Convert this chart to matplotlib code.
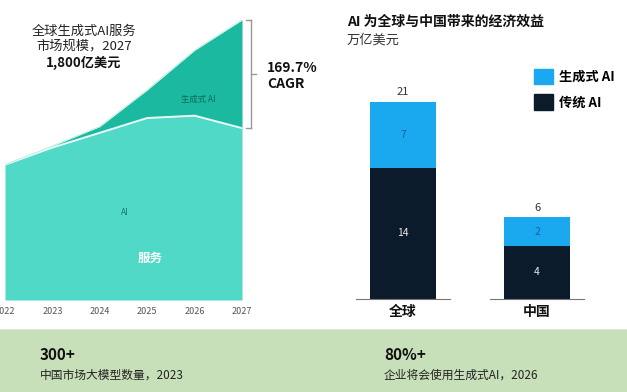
import matplotlib
matplotlib.use('Agg')
import matplotlib.pyplot as plt
from matplotlib.patches import Rectangle, Patch

plt.rcParams['font.family'] = ['Noto Sans CJK SC', 'DejaVu Sans']

W, H = 627, 392

# left: global gen-AI services market (亿美元)
years = [2022, 2023, 2024, 2025, 2026, 2027]
services = [870, 980, 1075, 1170, 1185, 1105]
gen_ai = [0, 10, 40, 180, 420, 695]

# right: economic benefit (万亿美元), bar heights as drawn in the picture
regions = ['全球', '中国']
trad_ai = [14, 5.7]
genai_benefit = [7, 3.0]
trad_labels = ['14', '4']
gen_labels = ['7', '2']
total_labels = ['21', '6']

C_SERV = '#4fd9c6'
C_GEN = '#1bb9a0'
C_LBLUE = '#1aa8ee'
C_NAVY = '#0c1b2b'


def axes_rect(x0, y0, x1, y1):
    """pixel box (top-left origin) -> figure fraction rect"""
    return [x0 / W, 1 - y1 / H, (x1 - x0) / W, (y1 - y0) / H]


def ftext(x, y, s, **kw):
    fig.text(x / W, 1 - y / H, s, **kw)


fig = plt.figure(figsize=(W / 100, H / 100), dpi=100)
fig.patch.set_facecolor('white')

# ---------------- area chart ----------------
ax1 = fig.add_axes(axes_rect(5, 20, 242, 300))
total = [s + g for s, g in zip(services, gen_ai)]
ax1.fill_between(years, 0, services, color=C_SERV, lw=0)
ax1.fill_between(years, services, total, color=C_GEN, lw=0)
ax1.plot(years, services, color='white', lw=1.4, alpha=0.9)
ax1.plot(years, total, color='#bff0e6', lw=0.8)
ax1.set_xlim(years[0], years[-1])
ax1.set_ylim(0, total[-1])
ax1.set_xticks(years)
ax1.set_xticklabels([str(y) for y in years], fontsize=6.5, color='#555555')
ax1.tick_params(axis='x', length=0, pad=5)
ax1.set_yticks([])
for s in ax1.spines.values():
    s.set_visible(False)

ax1.text(2024.53, 560, 'AI', fontsize=6, color='#14766a', ha='center', va='center')
ax1.text(2025.06, 270, '服务', fontsize=9, color='white', weight='bold', ha='center', va='center')
ax1.text(2026.07, 1290, '生成式 AI', fontsize=6, color='#0e6a5a', ha='center', va='center')

# CAGR bracket on the 2027 gen-AI slice
top, bot = total[-1], services[-1]
xb = years[-1] + 0.19
kw = dict(color='#999999', lw=1, clip_on=False)
ax1.plot([xb, xb], [bot, top], **kw)
ax1.plot([xb - 0.1, xb], [top, top], **kw)
ax1.plot([xb - 0.1, xb], [bot, bot], **kw)
ax1.plot([xb, xb + 0.1], [(top + bot) / 2] * 2, **kw)

ftext(84, 31, '全球生成式AI服务', fontsize=9.5, ha='center', va='center', color='#222222')
ftext(84, 46, '市场规模，2027', fontsize=9.5, ha='center', va='center', color='#222222')
ftext(84, 63, '1,800亿美元', fontsize=9.5, ha='center', va='center', color='#111111', weight='bold')
ftext(267, 68, '169.7%', fontsize=10, ha='left', va='center', color='#111111', weight='bold')
ftext(267, 84, 'CAGR', fontsize=10, ha='left', va='center', color='#111111', weight='bold')

# ---------------- bar chart ----------------
ax2 = fig.add_axes(axes_rect(340, 60, 600, 299))
pos = [0, 1]
bw = 0.49
ax2.bar(pos, trad_ai, bw, color=C_NAVY, lw=0)
ax2.bar(pos, genai_benefit, bw, bottom=trad_ai, color=C_LBLUE, lw=0)
ax2.set_xlim(-0.47, 1.47)
ax2.set_ylim(0, 25.5)
for p in pos:
    ax2.plot([p - 0.35, p + 0.35], [0, 0], color='#777777', lw=0.8, clip_on=False)
for p, t, g, tl, gl, tot in zip(pos, trad_ai, genai_benefit, trad_labels, gen_labels, total_labels):
    ax2.text(p, t / 2, tl, ha='center', va='center', fontsize=7.5, color='#e8e8e8')
    ax2.text(p, t + g / 2, gl, ha='center', va='center', fontsize=7.5, color='#1f5f9a')
    ax2.text(p, t + g + 0.5, tot, ha='center', va='bottom', fontsize=8, color='#333333')
ax2.set_xticks(pos)
ax2.set_xticklabels(regions, fontsize=10, weight='bold', color='#111111')
ax2.tick_params(axis='x', length=0, pad=4)
ax2.set_yticks([])
for s in ax2.spines.values():
    s.set_visible(False)

ftext(347, 22, 'AI 为全球与中国带来的经济效益', fontsize=10, weight='bold', va='center', color='#111111')
ftext(347, 40, '万亿美元', fontsize=9.5, va='center', color='#333333')

handles = [Patch(color=C_LBLUE, label='生成式 AI'), Patch(color=C_NAVY, label='传统 AI')]
fig.legend(handles=handles, loc='upper left', bbox_to_anchor=(527 / W, 1 - 62 / H),
           frameon=False, borderpad=0, handlelength=1.45, handleheight=1.45,
           handletextpad=0.45, labelspacing=0.75, prop={'size': 9.5, 'weight': 'bold'})

# ---------------- bottom band ----------------
fig.add_artist(Rectangle((0, 0), 1, 62 / H, transform=fig.transFigure,
                         color='#c8e0b9', zorder=0, lw=0))
fig.add_artist(Rectangle((0, 62 / H), 1, 1.5 / H, transform=fig.transFigure,
                         color='#e3e6d6', zorder=0, lw=0))
ftext(40, 355, '300+', fontsize=11, weight='bold', va='center', color='#111111')
ftext(40, 375, '中国市场大模型数量，2023', fontsize=8.5, va='center', color='#222222')
ftext(384, 355, '80%+', fontsize=11, weight='bold', va='center', color='#111111')
ftext(384, 375, '企业将会使用生成式AI，2026', fontsize=8.5, va='center', color='#222222')

fig.savefig('out.png', dpi=100)
